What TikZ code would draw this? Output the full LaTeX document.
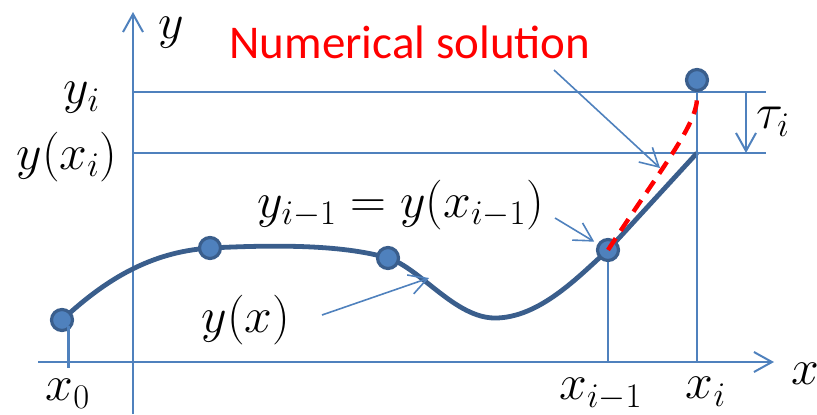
\documentclass[tikz,border=0pt]{standalone}
\usepackage{fontspec}
\newfontfamily\labfont{Carlito}
\usetikzlibrary{arrows.meta, positioning}
\definecolor{axc}{HTML}{4F81BD}
\definecolor{crvc}{HTML}{3A5E8C}

\begin{document}
\begin{tikzpicture}[x=0.5pt, y=-0.5pt, >={Straight Barb[length=9pt,width=10pt]},
          line width=1pt, font=\fontsize{23}{27}\selectfont,
          ax/.style={axc, line width=1pt},
          ptr/.style={->, axc, line width=0.8pt},
          dot/.style={circle, draw=crvc, fill=axc, line width=1.6pt,
                      minimum size=10.5pt, inner sep=0pt}]
        \useasboundingbox (0,0) rectangle (817,414);
        % axes
        \coordinate (yb) at (133,414);
        \coordinate (yt) at (133,12);
        \coordinate (xl) at (38,362);
        \coordinate (xr) at (774,362);
        \draw[ax, ->] (yb)--(yt);
        \draw[ax, ->] (xl)--(xr);
        % levels
        \coordinate (h1a) at (133,92);
        \coordinate (h1b) at (766,92);
        \coordinate (h2a) at (133,153);
        \coordinate (h2b) at (766,153);
        \draw[ax] (h1a)--(h1b);
        \draw[ax] (h2a)--(h2b);
        \coordinate (ta) at (746,92);
        \coordinate (tb) at (746,153);
        \draw[ax, ->] (ta)--(tb);
        % exact solution
        \draw[crvc, line width=2.4pt] (62,320) .. controls (105,280) and (150,252) ..
              (210,248) .. controls (270,245) and (340,244) ..
              (388,258) .. controls (420,268) and (455,318) ..
              (495,318) .. controls (540,318) and (580,275) ..
              (608,250) -- (697,153);
        % points
        \node[dot] (p0) at (62,320) {};
        \node[dot] (p1) at (210,248) {};
        \node[dot] (p2) at (388,258) {};
        \node[dot] (p3) at (608,250) {};
        \node[dot] (pi) at (697,80) {};
        \coordinate (f0a) at (68,326);
        \coordinate (f0b) at (68,368);
        \coordinate (f1) at (608,362);
        \coordinate (f2) at (697,362);
        \draw[ax, line width=1.5pt] (f0a)--(f0b);
        \draw[ax] (p3)--(f1);
        \draw[ax] (pi)--(f2);
        % numerical step
        \draw[red, line width=2.2pt, dash pattern=on 7pt off 4.5pt]
              (p3.center) .. controls (660,170) and (697,125) .. (697,98);
        % labels
        \node[anchor=base, inner sep=1pt] (ly) at (171,38) {$y$};
        \node (lx) at (805,374) {$x$};
        \node (lyi) at (82,98) {$y_i$};
        \node (lyxi) at (67,157) {$y(x_i)$};
        \node (ltau) at (773,122) {$\tau_i$};
        \node (lx0) at (68,394) {$x_0$};
        \node (lxim) at (601,394) {$x_{i-1}$};
        \node (lxi) at (706,392) {$x_i$};
        \node (lyx) at (246,320) {$y(x)$};
        \node (lyim) at (401,205) {$y_{i-1}=y(x_{i-1})$};
        \node[anchor=base, red, font=\fontsize{23.5}{28}\labfont] (lns)
              at (410,58) {Numerical solution};
        % pointers
        \coordinate (ns0) at (554,70);
        \coordinate (ns1) at (660,168);
        \draw[ptr] (ns0)--(ns1);
        \coordinate (ym0) at (555,218);
        \draw[ptr, shorten >=2pt] (ym0)--(p3);
        \coordinate (yx0) at (322,315);
        \coordinate (yx1) at (429,278);
        \draw[ptr] (yx0)--(yx1);
      \end{tikzpicture}
\end{document}
